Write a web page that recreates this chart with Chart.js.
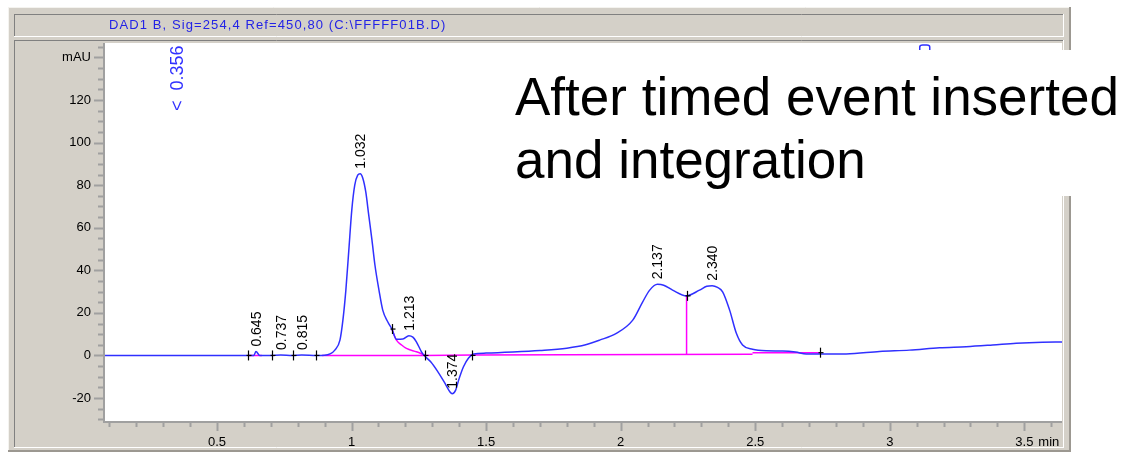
<!DOCTYPE html>
<html lang="en">
<head>
<meta charset="UTF-8">
<title>DAD1 B - Sig=254,4</title>
<script src="https://cdn.jsdelivr.net/npm/chart.js"></script>
<style>
  html, body { margin: 0; padding: 0; background: #fff; }
  #wrap { position: relative; width: 1126px; height: 453px; overflow: hidden; }
  #chart { position: absolute; left: 0; top: 0; }
  #sigTitle {
    position: absolute; left: 109px; top: 17px; height: 22px; line-height: 22px;
    font: 13px "Liberation Sans", Arial, sans-serif; letter-spacing: 1.1px; color: #2323e6;
    white-space: nowrap;
  }
  #note {
    position: absolute; left: 505px; top: 50px; width: 621px; height: 146px;
    background: #fff; box-sizing: border-box; padding: 15px 0 0 10px;
    font: 53px "Liberation Sans", Arial, sans-serif; line-height: 63px; color: #000;
    white-space: nowrap;
  }
</style>
</head>
<body>
<div id="wrap">
  <canvas id="chart" width="1126" height="453"></canvas>
  <div id="sigTitle">DAD1 B, Sig=254,4 Ref=450,80 (C:\FFFFF01B.D)</div>
  <div id="note">After timed event inserted<br>and integration</div>
</div>

<script>
// signal trace (min, mAU)
const traceTime = [0.084, 0.300, 0.500, 0.620, 0.637, 0.645, 0.659, 0.700, 0.737, 0.780, 0.815, 0.870,
  0.900, 0.920, 0.938, 0.957, 0.968, 0.979, 0.990, 1.001, 1.012, 1.023, 1.032, 1.042, 1.053, 1.064,
  1.076, 1.087, 1.102, 1.116, 1.135, 1.150, 1.167, 1.191, 1.213, 1.228, 1.241, 1.260, 1.272, 1.295,
  1.321, 1.347, 1.366, 1.374, 1.387, 1.398, 1.416, 1.435, 1.454, 1.500, 1.600, 1.700, 1.800, 1.870,
  1.922, 1.984, 2.045, 2.082, 2.108, 2.137, 2.160, 2.193, 2.245, 2.293, 2.320, 2.340, 2.360, 2.379,
  2.405, 2.430, 2.453, 2.490, 2.541, 2.602, 2.650, 2.690, 2.838, 2.962, 3.073, 3.185, 3.284, 3.382,
  3.470, 3.567, 3.640];
const traceSignal = [0, 0, 0, 0, 0, 1.8, 0, 0, 0.2, 0, 0.2, 0,
  0.1, 0.7, 2.5, 7.2, 16.6, 30.7, 49.5, 68.3, 80.0, 84.7, 85.4, 83.3, 76.8, 65.9,
  54.2, 42.5, 30.7, 21.3, 15.7, 12.4, 7.6, 7.7, 9.3, 8.6, 6.4, 1.7, -0.3, -3.1,
  -7.7, -13.0, -17.2, -18.0, -16.3, -11.6, -5.3, -1.2, 0.7, 1.1, 1.6, 2.3, 3.4, 5.0,
  7.2, 10.4, 16.6, 25.2, 30.7, 33.4, 33.0, 30.7, 28.0, 30.7, 32.5, 32.8, 32.0, 29.9,
  21.3, 10.4, 4.9, 2.9, 2.2, 2.1, 1.6, 0.7, 0.7, 1.9, 2.5, 3.6, 4.1, 4.9,
  5.7, 6.2, 6.3];

// integration baselines
const baseStart = [0.615, 0.890, 1.272, 1.454, 2.490];
const baseEnd = [0.667, 1.272, 1.454, 2.490, 2.740];
const baseStartLevel = [0, 0, 0, 0.2, 1.3];
const baseEndLevel = [0, 0, 0.2, 0.6, 1.3];

// tangent skim under the 1.213 rider
const skimTime = [1.150, 1.158, 1.167, 1.186, 1.204, 1.241, 1.272];
const skimSignal = [12.4, 9.6, 7.2, 4.9, 3.3, 1.7, 0.2];

// drop line between 2.137 and 2.340
const dropTime = 2.245;
const dropLevel = [0.5, 28.0];

// peak start / end marks
const markTime = [0.617, 0.704, 0.782, 0.868, 1.150, 1.272, 1.446, 2.245, 2.740];
const markSignal = [0, 0, 0, 0, 12.4, 0, 0, 28.0, 1.3];

// retention time labels
const peakTime = [0.645, 0.737, 0.815, 1.032, 1.213, 1.374, 2.137, 2.340];
const peakSignal = [1.8, 0.2, 0.2, 85.4, 9.3, -18.0, 33.4, 32.8];
const peakLabel = ['0.645', '0.737', '0.815', '1.032', '1.213', '1.374', '2.137', '2.340'];

// off-scale peak
const offTime = 0.356;
const offLabel = '<  0.356';
const offTime2 = 3.13;

// axes
const xMin = 0.084, xMax = 3.64;
const yMin = -30.8, yMax = 146.8;
const xMajor = [0.5, 1, 1.5, 2, 2.5, 3, 3.5];
const xMajorLabel = ['0.5', '1', '1.5', '2', '2.5', '3', '3.5'];
const yMajor = [-20, 0, 20, 40, 60, 80, 100, 120, 140];
const yMajorLabel = ['-20', '0', '20', '40', '60', '80', '100', '120', 'mAU'];

const BLUE = '#3030ff';
const MAGENTA = '#ff00ff';
const AXIS_GRAY = '#a0a0a0';
const FONT = '"Liberation Sans", Arial, sans-serif';

const toPoints = (xs, ys) => xs.map((x, i) => ({ x: x, y: ys[i] }));

const basePoints = [];
baseStart.forEach((t, i) => {
  basePoints.push({ x: t, y: baseStartLevel[i] }, { x: baseEnd[i], y: baseEndLevel[i] }, { x: baseEnd[i], y: null });
});

function line(ctx, x1, y1, x2, y2, color, w) {
  ctx.strokeStyle = color;
  ctx.lineWidth = w || 1;
  ctx.beginPath();
  ctx.moveTo(x1, y1);
  ctx.lineTo(x2, y2);
  ctx.stroke();
}

// grey window frame, sunken panels, axes and tick marks
const framePlugin = {
  id: 'frame',
  beforeDraw(chart) {
    const ctx = chart.ctx, a = chart.chartArea;
    ctx.save();
    ctx.fillStyle = '#fff';
    ctx.fillRect(0, 0, chart.width, chart.height);
    ctx.fillStyle = '#d4d0c8';
    ctx.fillRect(8, 7, 1063, 445);
    line(ctx, 8, 7.5, 1071, 7.5, '#f4f3ef');
    line(ctx, 8.5, 7, 8.5, 452, '#f4f3ef');
    line(ctx, 1070, 7, 1070, 452, '#9c9891', 2);
    line(ctx, 8, 451, 1071, 451, '#9c9891', 2);
    // title bar
    line(ctx, 14, 14.5, 1064, 14.5, '#808080');
    line(ctx, 14.5, 14, 14.5, 37, '#808080');
    line(ctx, 14, 36.5, 1064, 36.5, '#ffffff');
    line(ctx, 1063.5, 14, 1063.5, 37, '#ffffff');
    // plot panel
    line(ctx, 14, 40.5, 1064, 40.5, '#808080');
    line(ctx, 14.5, 40, 14.5, 448, '#808080');
    line(ctx, 14, 447.5, 1064, 447.5, '#ffffff');
    line(ctx, 1063.5, 40, 1063.5, 448, '#ffffff');
    ctx.fillStyle = '#fff';
    ctx.fillRect(a.left, a.top, a.right - a.left, a.bottom - a.top);
    ctx.restore();
  },
  afterDraw(chart) {
    const ctx = chart.ctx, a = chart.chartArea;
    const xs = chart.scales.x, ys = chart.scales.y;
    ctx.save();
    line(ctx, a.left - 1, a.top, a.left - 1, a.bottom + 2, AXIS_GRAY, 2);
    line(ctx, a.left - 2, a.bottom + 1, a.right, a.bottom + 1, AXIS_GRAY, 2);
    // y ticks every 5 mAU, long ones at the labels
    for (let k = -6; k <= 29; k++) {
      const v = k * 5;
      const py = Math.round(ys.getPixelForValue(v)) + 0.5;
      const major = yMajor.includes(v);
      line(ctx, a.left - (major ? 11 : 7), py, a.left - 2, py, AXIS_GRAY, 2);
    }
    // x ticks every 0.1 min
    for (let k = 1; k <= 36; k++) {
      const t = k / 10;
      const px = Math.round(xs.getPixelForValue(t)) + 0.5;
      const major = k % 5 === 0;
      line(ctx, px, a.bottom + 2, px, a.bottom + (major ? 10 : 6), AXIS_GRAY, 2);
    }
    ctx.fillStyle = '#000';
    ctx.font = '13px ' + FONT;
    ctx.textAlign = 'left';
    ctx.textBaseline = 'middle';
    ctx.fillText('min', xs.getPixelForValue(3.5) + 14, a.bottom + 21);
    ctx.restore();
  },
  afterDatasetsDraw(chart) {
    const ctx = chart.ctx, a = chart.chartArea;
    const xs = chart.scales.x, ys = chart.scales.y;
    ctx.save();
    // start/end marks
    markTime.forEach((t, i) => {
      const px = Math.round(xs.getPixelForValue(t)) + 0.5;
      const py = ys.getPixelForValue(markSignal[i]);
      line(ctx, px, py - 5, px, py + 5, '#000', 1.2);
      line(ctx, px - 2, py, px + 3, py, '#000', 1.2);
    });
    // retention time labels
    ctx.fillStyle = '#000';
    ctx.font = '14px ' + FONT;
    ctx.textAlign = 'left';
    ctx.textBaseline = 'middle';
    peakTime.forEach((t, i) => {
      const px = xs.getPixelForValue(t) + 1;
      const py = ys.getPixelForValue(peakSignal[i]) - 5;
      ctx.save();
      ctx.translate(px, py);
      ctx.rotate(-Math.PI / 2);
      ctx.fillText(peakLabel[i], 0, 0);
      ctx.restore();
    });
    // off-scale peak label
    ctx.fillStyle = BLUE;
    ctx.font = '18px ' + FONT;
    ctx.save();
    ctx.translate(xs.getPixelForValue(offTime), a.top + 68);
    ctx.rotate(-Math.PI / 2);
    ctx.fillText(offLabel, 0, 0);
    ctx.restore();
    // second off-scale marker, mostly under the note
    const px2 = xs.getPixelForValue(offTime2);
    ctx.strokeStyle = BLUE;
    ctx.lineWidth = 1.5;
    ctx.beginPath();
    ctx.moveTo(px2 - 5, a.top + 9);
    ctx.lineTo(px2 - 5, a.top + 4);
    ctx.quadraticCurveTo(px2 - 5, a.top + 2, px2 - 2, a.top + 2);
    ctx.lineTo(px2 + 2, a.top + 2);
    ctx.quadraticCurveTo(px2 + 5, a.top + 2, px2 + 5, a.top + 4);
    ctx.lineTo(px2 + 5, a.top + 9);
    ctx.stroke();
    ctx.restore();
  }
};

new Chart(document.getElementById('chart'), {
  type: 'line',
  data: {
    datasets: [
      {
        data: toPoints(traceTime, traceSignal),
        borderColor: BLUE, borderWidth: 1.5, pointRadius: 0,
        cubicInterpolationMode: 'monotone', order: 1
      },
      {
        data: basePoints,
        borderColor: MAGENTA, borderWidth: 1.5, pointRadius: 0, tension: 0, order: 2
      },
      {
        data: toPoints(skimTime, skimSignal),
        borderColor: MAGENTA, borderWidth: 1.5, pointRadius: 0,
        cubicInterpolationMode: 'monotone', order: 2
      },
      {
        data: [{ x: dropTime, y: dropLevel[0] }, { x: dropTime, y: dropLevel[1] }],
        borderColor: MAGENTA, borderWidth: 1.5, pointRadius: 0, order: 2
      }
    ]
  },
  options: {
    responsive: false,
    animation: false,
    events: [],
    layout: { padding: { top: 43, right: 64, left: 0, bottom: 0 } },
    plugins: { legend: { display: false }, tooltip: { enabled: false } },
    scales: {
      x: {
        type: 'linear', min: xMin, max: xMax,
        grid: { display: false, drawTicks: false },
        border: { display: false },
        afterBuildTicks: s => { s.ticks = xMajor.map(v => ({ value: v })); },
        afterFit: s => { s.height = 32; },
        ticks: {
          autoSkip: false, maxRotation: 0, padding: 14, color: '#000',
          font: { family: FONT, size: 13 },
          callback: (v, i) => xMajorLabel[i]
        }
      },
      y: {
        type: 'linear', min: yMin, max: yMax,
        grid: { display: false, drawTicks: false },
        border: { display: false },
        afterBuildTicks: s => { s.ticks = yMajor.map(v => ({ value: v })); },
        afterFit: s => { s.width = 105; },
        ticks: {
          autoSkip: false, padding: 14, color: '#000',
          font: { family: FONT, size: 13 },
          callback: (v, i) => yMajorLabel[i]
        }
      }
    }
  },
  plugins: [framePlugin]
});
</script>
</body>
</html>
